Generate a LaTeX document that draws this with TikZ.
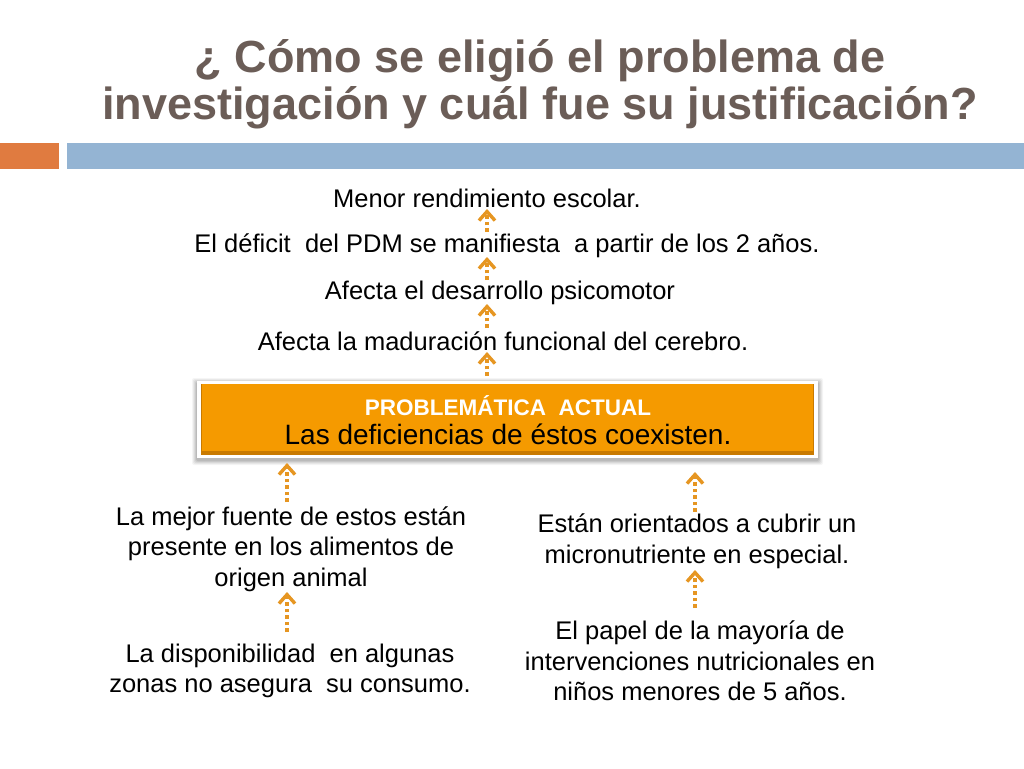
\documentclass[tikz,border=0pt]{standalone}
\usepackage{fontspec}
\setmainfont{Liberation Sans}
\usetikzlibrary{arrows.meta}
\definecolor{titlec}{HTML}{6B5D57}
\definecolor{barorange}{HTML}{E07B40}
\definecolor{barblue}{HTML}{94B4D3}
\definecolor{arrowc}{HTML}{E69622}
\definecolor{boxfill}{HTML}{F59A00}
\definecolor{boxdark}{HTML}{C97A00}
\tikzset{
  txt/.style={font=\fontsize{25.5}{30.5}\selectfont, align=center, inner sep=0pt, text=black},
  upar/.style={arrowc, line width=3.6pt, dash pattern=on 3.6pt off 3pt, -{Straight Barb[length=9pt,width=16pt,line width=3.4pt]}},
  ttl/.style={font=\fontsize{45}{47}\selectfont\bfseries, text=titlec, align=center, inner sep=0pt}
}
\begin{document}
\begin{tikzpicture}[x=1pt,y=-1pt]
\useasboundingbox (0,0) rectangle (1024,768);
\fill[white] (0,0) rectangle (1024,768);
% title
\node[ttl] (title) at (540,84) {¿ Cómo se eligió el problema de\\investigación y cuál fue su justificación?};
% bars
\fill[barorange] (0,143) rectangle (59,169);
\fill[barblue] (67,143) rectangle (1024,169);
% top chain
\node[txt] (t1) at (487,198) {Menor rendimiento escolar.};
\node[txt] (t2) at (507,246) {El déficit\ \ del PDM se manifiesta\ \ a partir de los 2 años.};
\node[txt] (t3) at (500,293) {Afecta el desarrollo psicomotor};
\node[txt] (t4) at (503,341) {Afecta la maduración funcional del cerebro.};
% box with soft shadow, white frame and bevel
\foreach \o/\a in {5/0.04,4/0.05,3/0.06,2/0.07,1/0.08}
  \fill[black, opacity=\a, rounded corners=2pt] (197-\o,381-\o+2) rectangle (818+\o,458+\o+2);
\fill[white] (197,381) rectangle (818,458);
\fill[boxdark] (201,384) rectangle (814,455);
\fill[boxfill] (202,384) rectangle (813,451);
\node[inner sep=0pt, minimum width=612, minimum height=67, align=center] (box) at (508,420)
  {{\fontsize{22.5}{24}\selectfont\bfseries\color{white}PROBLEMÁTICA\ \ ACTUAL}\\[7pt]
   {\fontsize{28}{30}\selectfont Las deficiencias de éstos coexisten.}};
% left column
\node[txt] (l1) at (291,549) {La mejor fuente de estos están\\presente en los alimentos de\\origen animal};
\node[txt] (l2) at (290,671) {La disponibilidad\ \ en algunas\\zonas no asegura\ \ su consumo.};
% right column
\node[txt] (r1) at (697,541) {Están orientados a cubrir un\\micronutriente en especial.};
\node[txt] (r2) at (700,661) {El papel de la mayoría de\\intervenciones nutricionales en\\niños menores de 5 años.};
% arrows
\coordinate (a1s) at (487,232); \coordinate (a1e) at (487,209);
\coordinate (a2s) at (487,280); \coordinate (a2e) at (487,257);
\coordinate (a3s) at (487,328); \coordinate (a3e) at (487,304);
\coordinate (a4s) at (487,376); \coordinate (a4e) at (487,352);
\coordinate (l1s) at (287,502); \coordinate (l1e) at (287,463);
\coordinate (l2s) at (287,632); \coordinate (l2e) at (287,592);
\coordinate (r1s) at (695,512); \coordinate (r1e) at (695,472);
\coordinate (r2s) at (695,608); \coordinate (r2e) at (695,570);
\draw[upar] (a1s) -- (a1e);
\draw[upar] (a2s) -- (a2e);
\draw[upar] (a3s) -- (a3e);
\draw[upar] (a4s) -- (a4e);
\draw[upar] (l1s) -- (l1e);
\draw[upar] (l2s) -- (l2e);
\draw[upar] (r1s) -- (r1e);
\draw[upar] (r2s) -- (r2e);
\end{tikzpicture}
\end{document}
